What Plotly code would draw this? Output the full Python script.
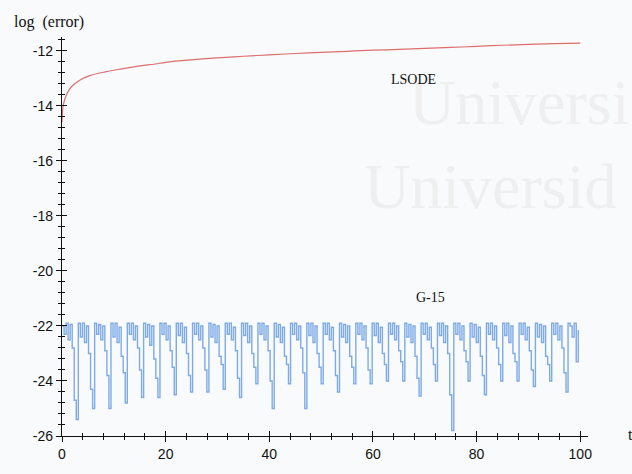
import numpy as np
import plotly.graph_objects as go

# LSODE error curve: time and log10(error)
lsode_t = [0, 0.25, 0.9, 1.9, 3.5, 5.1, 8.3, 11.5, 14.7, 18, 20, 25, 30, 35, 40,
           45, 50, 55, 60, 65, 70, 75, 80, 85, 90, 95, 100]
lsode_err = [-14.6, -13.97, -13.58, -13.29, -13.06, -12.92, -12.77, -12.66, -12.56,
             -12.48, -12.42, -12.33, -12.26, -12.2, -12.15, -12.1, -12.06, -12.02,
             -11.98, -11.95, -11.91, -11.88, -11.84, -11.8, -11.77, -11.74, -11.72]

# G-15 error: log10(error) sampled 8 times per oscillation period
g15_period = 3.15
g15_rows = [
    [-22.0, -22.3, -21.9, -22.5, -21.95, -22.8, -24.7, -25.4],
    [-21.9, -22.4, -21.9, -22.6, -22.0, -23.0, -24.3, -25.0],
    [-21.9, -22.3, -21.95, -22.5, -22.0, -22.9, -23.8, -25.0],
    [-21.9, -22.4, -21.9, -22.6, -22.05, -23.1, -23.7, -24.8],
    [-21.9, -22.3, -21.9, -22.5, -22.0, -22.8, -23.6, -24.6],
    [-21.9, -22.4, -21.95, -22.7, -22.0, -23.2, -23.9, -24.6],
    [-21.9, -22.3, -21.9, -22.5, -22.0, -22.9, -23.5, -24.5],
    [-21.9, -22.35, -21.9, -22.6, -22.05, -23.0, -23.8, -24.4],
    [-21.9, -22.3, -21.9, -22.5, -22.0, -22.8, -23.6, -24.4],
    [-21.9, -22.4, -21.95, -22.6, -22.0, -23.1, -23.4, -24.3],
    [-21.9, -22.3, -21.9, -22.5, -22.05, -22.9, -23.9, -24.6],
    [-21.9, -22.35, -21.9, -22.6, -22.0, -23.0, -23.5, -24.1],
    [-21.9, -22.3, -21.9, -22.5, -22.0, -22.9, -24.0, -25.0],
    [-21.9, -22.4, -21.95, -22.6, -22.05, -23.1, -23.4, -24.1],
    [-21.9, -22.3, -21.9, -22.5, -22.0, -22.8, -23.7, -25.0],
    [-21.9, -22.35, -21.9, -22.6, -22.0, -23.0, -23.5, -24.1],
    [-21.9, -22.3, -21.9, -22.5, -22.05, -22.9, -23.8, -24.4],
    [-21.9, -22.4, -21.95, -22.6, -22.0, -23.1, -23.5, -24.1],
    [-21.9, -22.3, -21.9, -22.5, -22.0, -22.8, -23.6, -24.1],
    [-21.9, -22.35, -21.9, -22.6, -22.05, -23.0, -23.4, -24.0],
    [-21.9, -22.3, -21.9, -22.5, -22.0, -22.9, -23.3, -24.0],
    [-21.9, -22.4, -21.95, -22.6, -22.0, -23.1, -23.9, -24.55],
    [-21.9, -22.3, -21.9, -22.5, -22.05, -22.8, -23.4, -24.0],
    [-21.9, -22.35, -21.9, -22.6, -22.0, -23.0, -24.5, -25.8],
    [-21.9, -22.3, -21.9, -22.5, -22.0, -22.9, -23.3, -24.0],
    [-21.9, -22.4, -21.95, -22.6, -22.05, -23.1, -23.8, -24.5],
    [-21.9, -22.3, -21.9, -22.5, -22.0, -22.8, -23.4, -24.0],
    [-21.9, -22.35, -21.9, -22.6, -22.0, -23.0, -23.3, -24.0],
    [-21.9, -22.3, -21.9, -22.5, -22.05, -22.9, -23.6, -24.2],
    [-21.9, -22.4, -21.95, -22.6, -22.0, -23.1, -23.4, -24.0],
    [-21.9, -22.3, -21.9, -22.5, -22.0, -22.8, -23.7, -24.4],
    [-21.9, -22.0, -22.4, -21.9, -23.3, -22.15],
]

x_ticks = [0, 20, 40, 60, 80, 100]
y_ticks = [-26, -24, -22, -20, -18, -16, -14, -12]
y_ticktext = ["-26", "-24", "-22", "-20", "-18", "-16", "-14", "-12"]

g15_err = [v for row in g15_rows for v in row]
g15_t = np.arange(len(g15_err)) * (g15_period / 8)

RED = "#dc6e6e"
BLUE = "#7eabe6"
TICK_FONT = dict(family="Liberation Sans, Arial", size=14, color="#111")
SERIF = "Liberation Serif, Times New Roman, serif"

# plot-area geometry in pixels
L, T, W, H = 62, 37, 526, 418

fig = go.Figure()
fig.add_trace(go.Scatter(x=lsode_t, y=lsode_err, mode="lines", line_shape="spline",
                         line=dict(color=RED, width=1.2), hoverinfo="skip"))
fig.add_trace(go.Scatter(x=g15_t, y=g15_err, mode="lines", line_shape="hv",
                         line=dict(color=BLUE, width=1.4), hoverinfo="skip"))

x_range = [0, 101.5]
y_range = [-26, -11.5]

axis_common = dict(showgrid=False, zeroline=False, tickcolor="#111", tickwidth=1.2)

fig.update_layout(
    width=632, height=474,
    margin=dict(l=L, r=632 - L - W, t=T, b=474 - T - H),
    paper_bgcolor="#f8fafc", plot_bgcolor="rgba(0,0,0,0)",
    showlegend=False,
    xaxis=dict(range=x_range, tickvals=x_ticks, ticks="outside", ticklen=5,
               showline=True, linecolor="#111", linewidth=1.3, tickfont=TICK_FONT,
               minor=dict(dtick=4, ticks="outside", ticklen=3, tickcolor="#111"),
               **axis_common),
    yaxis=dict(range=y_range, tickvals=y_ticks, ticktext=y_ticktext, ticks="outside",
               ticklen=5, showline=True, linecolor="#111", linewidth=1.3, tickfont=TICK_FONT,
               minor=dict(dtick=0.4, tick0=-26, ticks="outside", ticklen=3, tickcolor="#111"),
               **axis_common),
    # second pair of axes supplies the inner half of the crossing ticks
    xaxis2=dict(range=x_range, overlaying="x", anchor="y", side="bottom",
                tickvals=x_ticks, ticks="inside", ticklen=5, showticklabels=False,
                showline=False,
                minor=dict(dtick=4, ticks="inside", ticklen=3, tickcolor="#111"),
                **axis_common),
    yaxis2=dict(range=y_range, overlaying="y", anchor="x", side="left",
                tickvals=y_ticks, ticks="inside", ticklen=5, showticklabels=False,
                showline=False,
                minor=dict(dtick=0.4, tick0=-26, ticks="inside", ticklen=3, tickcolor="#111"),
                **axis_common),
)
# dummy trace so the overlay axes are drawn
fig.add_trace(go.Scatter(x=[None], y=[None], xaxis="x2", yaxis="y2", showlegend=False))


def add_text(text, px, py, font, yanchor="middle"):
    fig.add_annotation(text=text, xref="paper", yref="paper",
                       x=(px - L) / W, y=1 - (py - T) / H,
                       xanchor="left", yanchor=yanchor, showarrow=False, font=font)


# faint watermark lettering behind the data
add_text("Universi", 407, 145, dict(family=SERIF, size=64, color="#efefef"), yanchor="bottom")
add_text("Universid", 362, 233, dict(family=SERIF, size=64, color="#efefef"), yanchor="bottom")

add_text("log  (error)", 12, 21, dict(family=SERIF, size=16, color="#111"))
add_text("t", 626, 453, dict(family=SERIF, size=16, color="#111"))
add_text("LSODE", 389, 82, dict(family=SERIF, size=14, color="#111"))
add_text("G-15", 414, 310, dict(family=SERIF, size=14, color="#111"))

fig.write_html("out.html")
